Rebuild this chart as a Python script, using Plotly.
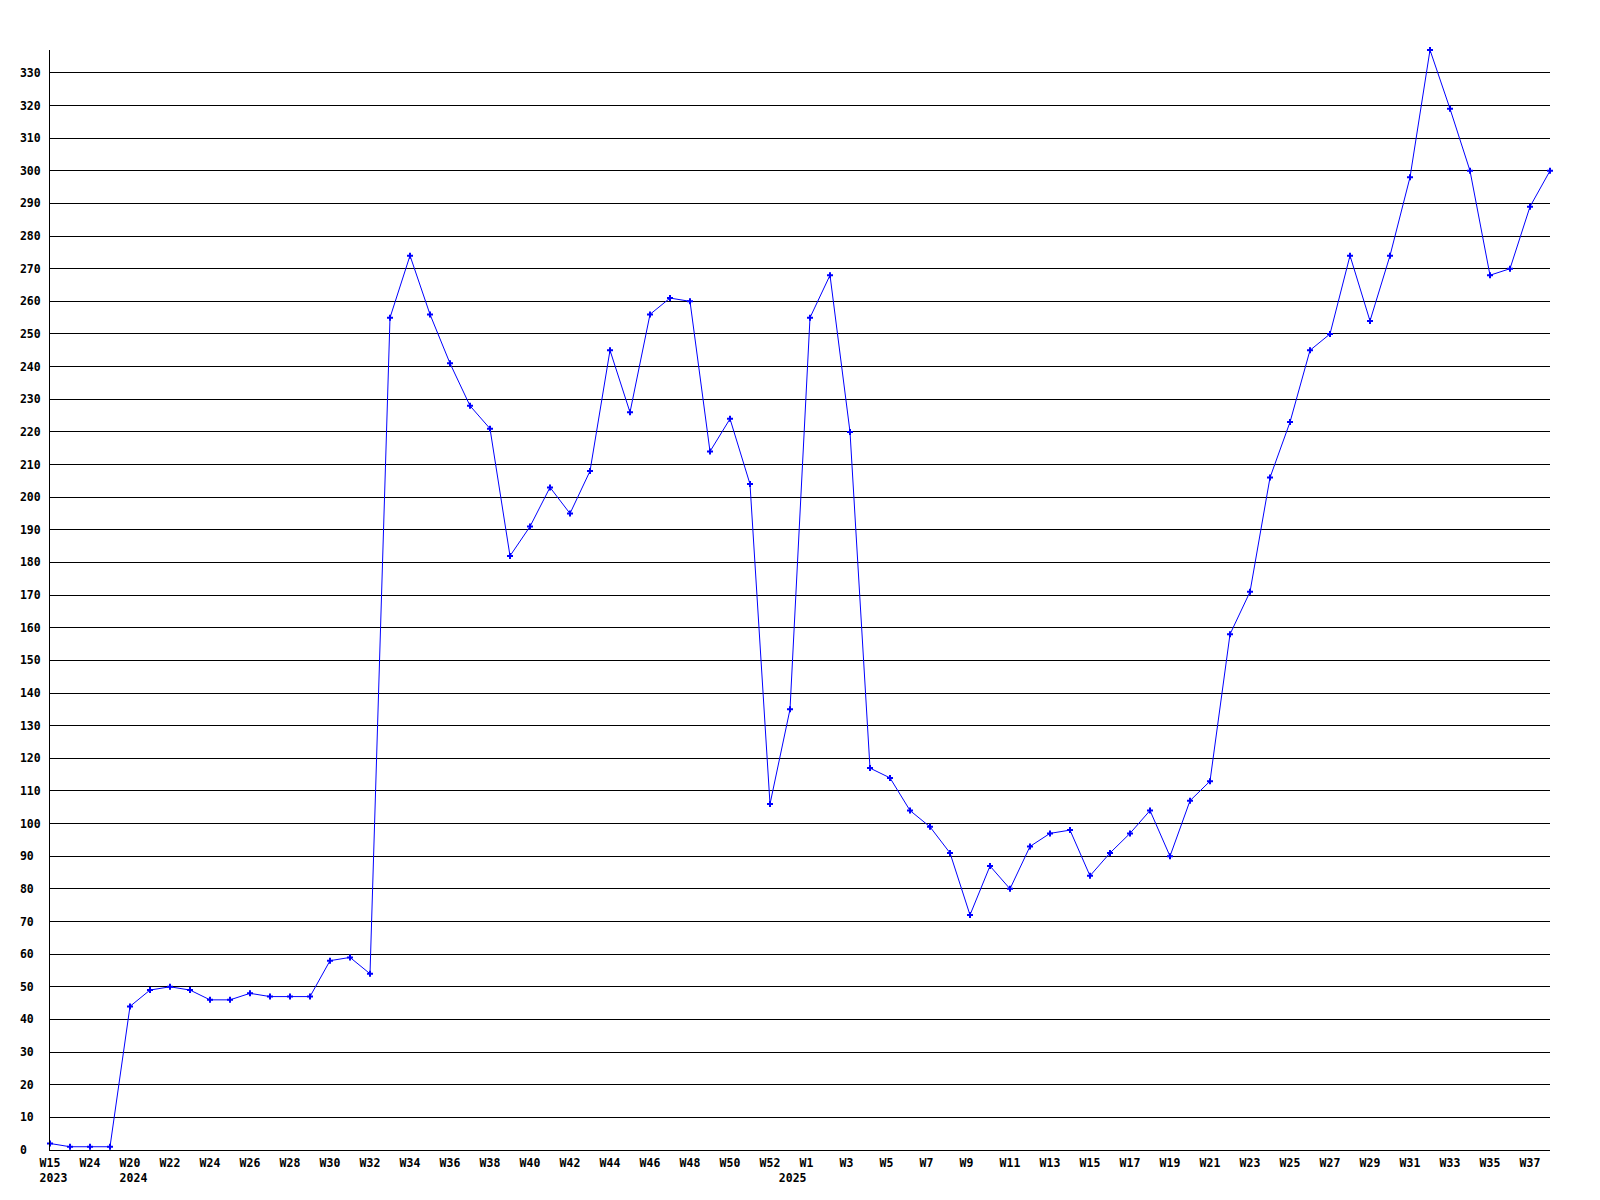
import plotly.graph_objects as go

NB = "\u00a0"

# Week categories (year, week)
years = [2023, 2023, 2023, 2024] + [2024] * 33 + [2024] + [2025] * 38
weeks = [15, 19, 24, 10] + list(range(20, 53)) + [53] + list(range(1, 39))
categories = [f"{y}-W{w}" for y, w in zip(years, weeks)]

values = [2, 1, 1, 1, 44, 49, 50, 49, 46, 46, 48, 47, 47, 47, 58, 59, 54,
          255, 274, 256, 241, 228, 221, 182, 191, 203, 195, 208, 245, 226,
          256, 261, 260, 214, 224, 204, 106, 135, 255, 268, 220, 117, 114,
          104, 99, 91, 72, 87, 80, 93, 97, 98, 84, 91, 97, 104, 90, 107, 113,
          158, 171, 206, 223, 245, 250, 274, 254, 274, 298, 337, 319, 300,
          268, 270, 289, 300]

# tick labels: every other category, with year under the first label of a year
tick_vals = categories[0::2]
tick_text = []
seen_years = set()
for i in range(0, len(categories), 2):
    lab = f"W{weeks[i]}".ljust(3, NB)
    if years[i] not in seen_years:
        if weeks[i] == 1:
            lab += "<br>" + str(years[i]) + NB * 5
        else:
            lab += "<br>" + NB + str(years[i])
        seen_years.add(years[i])
    tick_text.append(lab)

y_ticks = list(range(0, 331, 10))
y_text = [str(v).ljust(3, NB) for v in y_ticks]

font = dict(family="DejaVu Sans Mono", size=11.5, color="black", weight="bold")

fig = go.Figure()
fig.add_trace(go.Scatter(
    x=categories, y=values, mode="lines+markers",
    line=dict(color="#0000FF", width=1),
    marker=dict(symbol="cross", size=5, color="#0000FF"),
    cliponaxis=False,
))

fig.update_layout(
    width=1584, height=1184,
    margin=dict(l=42, r=42, t=42, b=42),
    plot_bgcolor="white", paper_bgcolor="white",
    showlegend=False,
    font=font,
)
fig.update_xaxes(
    type="category", range=[0, len(categories) - 1],
    tickmode="array", tickvals=tick_vals, ticktext=tick_text,
    tickangle=0,
    showgrid=False, zeroline=False, automargin=False,
    showline=True, linecolor="black", linewidth=1,
    ticks="", tickfont=font, ticklabelstandoff=2,
)
fig.update_yaxes(
    range=[0, max(values)],
    tickmode="array", tickvals=y_ticks, ticktext=y_text,
    showgrid=True, gridcolor="black", gridwidth=1,
    zeroline=False, automargin=False,
    showline=True, linecolor="black", linewidth=1,
    ticks="", tickfont=font, ticklabelstandoff=6,
)

fig.write_html("out.html")
